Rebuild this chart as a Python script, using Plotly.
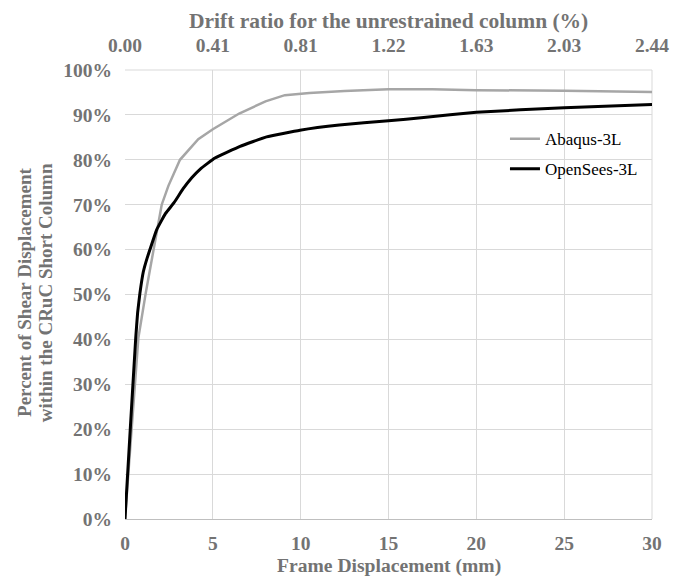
import plotly.graph_objects as go

# Frame displacement (mm) and percent of shear displacement (fraction)
abaqus_disp = [0, 0.76, 1.18, 1.61, 1.9, 2.09, 2.47, 3.13, 4.17, 5.0, 6.5, 8.0, 9.1,
               10.5, 12.5, 15, 17.5, 20, 25, 30]
abaqus_pct = [0, 0.403, 0.503, 0.600, 0.657, 0.700, 0.742, 0.800, 0.846, 0.868, 0.903,
              0.930, 0.944, 0.949, 0.953, 0.957, 0.957, 0.955, 0.954, 0.951]

opensees_disp = [0, 0.3, 0.61, 0.72, 0.85, 1.04, 1.25, 1.42, 1.8, 2.3, 2.8, 3.3, 3.8,
                 4.3, 5.12, 6.55, 8.06, 9.96, 12.2, 15, 17, 20, 25, 30]
opensees_pct = [0, 0.20, 0.403, 0.46, 0.503, 0.55, 0.58, 0.600, 0.644, 0.68, 0.705,
                0.735, 0.76, 0.78, 0.804, 0.830, 0.851, 0.866, 0.8775, 0.887, 0.894,
                0.906, 0.916, 0.923]

x_ticks = [0, 5, 10, 15, 20, 25, 30]
drift_labels = ["0.00", "0.41", "0.81", "1.22", "1.63", "2.03", "2.44"]
y_ticks = [0, 0.1, 0.2, 0.3, 0.4, 0.5, 0.6, 0.7, 0.8, 0.9, 1.0]

FONT = "Liberation Serif"
GREY_TXT = "#737373"
GRID = "#d9d9d9"

fig = go.Figure()
fig.add_trace(go.Scatter(x=abaqus_disp, y=abaqus_pct, mode="lines", name="Abaqus-3L",
                         legendgroup="a",
                         line=dict(color="#a6a6a6", width=2.5)))
fig.add_trace(go.Scatter(x=opensees_disp, y=opensees_pct, mode="lines", name="OpenSees-3L",
                         legendgroup="b",
                         line=dict(color="#000000", width=3, shape="spline", smoothing=0.3)))
# invisible trace to activate top axis
fig.add_trace(go.Scatter(x=[0, 30], y=[0, 0], xaxis="x2", mode="lines",
                         line=dict(width=0), showlegend=False, hoverinfo="skip"))

tickfont = dict(family=FONT, size=19.5, color=GREY_TXT, weight="bold")

fig.update_layout(
    width=683, height=579,
    margin=dict(l=125, r=31, t=70, b=60),
    paper_bgcolor="white", plot_bgcolor="white",
    showlegend=True,
    legend=dict(x=0.721, y=0.886, xanchor="left", yanchor="top",
                font=dict(family=FONT, size=17, color="#000000"),
                bgcolor="rgba(0,0,0,0)", tracegroupgap=5, itemwidth=30),
    xaxis=dict(range=[0, 30], tickvals=x_ticks, ticktext=[str(v) for v in x_ticks],
               showgrid=True, gridcolor=GRID, gridwidth=1, zeroline=False,
               showline=True, linecolor="#bfbfbf", linewidth=1, ticks="",
               tickfont=tickfont, ticklabelstandoff=7),
    xaxis2=dict(range=[0, 30], overlaying="x", side="top", tickvals=x_ticks,
                ticktext=drift_labels, showgrid=False, zeroline=False, ticks="",
                tickfont=tickfont, ticklabelstandoff=13),
    yaxis=dict(range=[0, 1.0], tickvals=y_ticks, tickformat=".0%",
               showgrid=True, gridcolor=GRID, gridwidth=1, zeroline=False,
               showline=False, ticks="", tickfont=tickfont, ticklabelstandoff=12),
    annotations=[
        dict(text="Drift ratio for the unrestrained column (%)", xref="paper", yref="paper",
             x=0.5, y=1.109, xanchor="center", yanchor="middle", showarrow=False,
             font=dict(family=FONT, size=21.5, color=GREY_TXT, weight="bold")),
        dict(text="Frame Displacement (mm)", xref="paper", yref="paper",
             x=0.5, y=-0.105, xanchor="center", yanchor="middle", showarrow=False,
             font=dict(family=FONT, size=19.6, color=GREY_TXT, weight="bold")),
        dict(text="Percent of Shear Displacement", textangle=-90, xref="paper", yref="paper",
             x=-0.1898, y=0.5056, xanchor="center", yanchor="middle", showarrow=False,
             font=dict(family=FONT, size=19, color=GREY_TXT, weight="bold")),
        dict(text="within the CRuC Short Column", textangle=-90, xref="paper", yref="paper",
             x=-0.1518, y=0.503, xanchor="center", yanchor="middle", showarrow=False,
             font=dict(family=FONT, size=19, color=GREY_TXT, weight="bold")),
    ],
)
fig.add_shape(type="line", xref="paper", yref="paper", x0=0, x1=1, y0=1, y1=1,
              line=dict(color=GRID, width=1), layer="below")
fig.add_shape(type="line", xref="paper", yref="paper", x0=1, x1=1, y0=0, y1=1,
              line=dict(color=GRID, width=1), layer="below")

fig.write_html("out.html")
